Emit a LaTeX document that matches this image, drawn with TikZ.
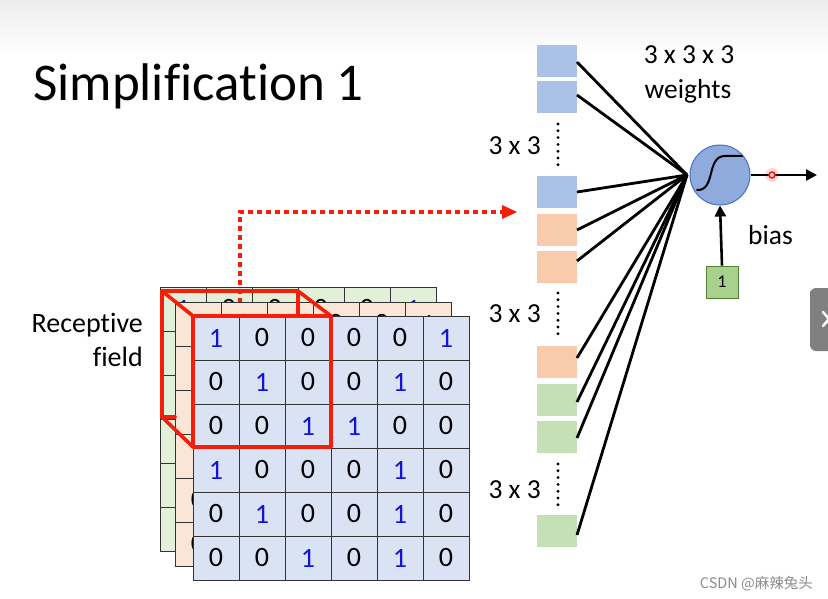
\documentclass[tikz,border=0pt]{standalone}
\usepackage{fontspec}
\setmainfont[Ligatures=NoCommon]{Carlito}
\newfontfamily\cjk{Noto Sans CJK SC}
\definecolor{oneblue}{RGB}{20,20,215}
\definecolor{gfront}{HTML}{DAE3F3}
\definecolor{gorange}{HTML}{FBE5D6}
\definecolor{ggreen}{HTML}{E2F0D9}
\definecolor{bblue}{HTML}{A9C2E5}
\definecolor{borange}{HTML}{F8CBAD}
\definecolor{bgreen}{HTML}{C5E0B4}
\definecolor{neuronfill}{HTML}{8FAADC}
\definecolor{neurondraw}{HTML}{4472C4}
\definecolor{biasfill}{HTML}{A9D18E}
\definecolor{biasdraw}{HTML}{548235}
\definecolor{rfred}{RGB}{245,30,10}
\newcommand{\drawgrid}[4]{%
  \foreach \row [count=\r] in {{1,0,0,0,0,1},{0,1,0,0,1,0},{0,0,1,1,0,0},{1,0,0,0,1,0},{0,1,0,0,1,0},{0,0,1,0,1,0}}{%
    \foreach \v [count=\c] in \row {%
      \ifnum\v=1 \def\tc{oneblue}\else\def\tc{black}\fi
      \node[cell, fill=#4, text=\tc] (#1-\r-\c) at ({#2+(\c-0.5)*46},{#3+(\r-0.5)*44}) {\v};
    }%
  }%
}
\tikzset{
  cell/.style={draw=black!80, line width=1pt, minimum width=46pt, minimum height=44pt, inner sep=0pt, font=\fontsize{28}{28}\selectfont},
  wbox/.style={minimum width=40pt, minimum height=32pt, inner sep=0pt},
  lbl/.style={font=\fontsize{27.5}{27.5}\selectfont, inner sep=0pt},
  wline/.style={line width=2.8pt, black},
  vdots/.style={line width=3.2pt, line cap=round, dash pattern=on 0pt off 6.8pt},
  redline/.style={rfred, line width=3.6pt, line cap=round, line join=round},
  tip/.style={-{Triangle[length=11pt,width=11pt]}, line width=2.6pt},
}
\usetikzlibrary{arrows.meta}
\begin{document}
\begin{tikzpicture}[x=1pt,y=-1pt]
\useasboundingbox (0,0) rectangle (828,599);
\fill[white] (0,0) rectangle (828,599);
\shade[top color=black!7, bottom color=white] (0,0) rectangle (828,55);

% title
\node[anchor=base west, inner sep=0pt, font=\fontsize{53}{53}\selectfont] (title) at (33,101) {Simplification 1};

% receptive field label
\node[anchor=base east, inner sep=0pt, font=\fontsize{28}{28}\selectfont] (rf1) at (143,332) {Receptive};
\node[anchor=base east, inner sep=0pt, font=\fontsize{28}{28}\selectfont] (rf2) at (143,366) {field};

% back grids
\drawgrid{g}{160}{287}{ggreen}
% red dotted pointer
\coordinate (pstart) at (240,303);
\coordinate (pcorner) at (240,212);
\coordinate (pend) at (517,212);
\draw[rfred, line width=4pt, dash pattern=on 5pt off 4pt] (pstart) -- (pcorner) -- (503,212);
\fill[rfred] (502,205) -- (pend) -- (502,219) -- cycle;

\drawgrid{o}{175}{302}{gorange}
% red cube back parts
\coordinate (bTL) at (162,291);
\coordinate (bTR) at (298,291);
\coordinate (bBL) at (162,417);
\coordinate (fTL) at (193,316);
\coordinate (fTR) at (331,316);
\coordinate (fBL) at (193,447);
\coordinate (fBR) at (331,447);
\draw[redline] (bBL) -- (bTL) -- (bTR) -- (298,316);
\draw[redline] (bBL) -- (175,417);
\draw[redline] (bTL) -- (fTL);
\draw[redline] (bTR) -- (fTR);
\draw[redline] (bBL) -- (fBL);
% front grid
\drawgrid{f}{193}{316}{gfront}
\draw[redline] (fTL) -- (fTR) -- (fBR) -- (fBL) -- cycle;

% weight boxes
\node[wbox, fill=bblue] (b1) at (557,61) {};
\node[wbox, fill=bblue] (b2) at (557,97) {};
\node[wbox, fill=bblue] (b3) at (557,192) {};
\node[wbox, fill=borange] (o1) at (557,230) {};
\node[wbox, fill=borange] (o2) at (557,267) {};
\node[wbox, fill=borange] (o3) at (557,362) {};
\node[wbox, fill=bgreen] (g1) at (557,400) {};
\node[wbox, fill=bgreen] (g2) at (557,437) {};
\node[wbox, fill=bgreen] (g3) at (557,531) {};

% vertical dots
\coordinate (d1a) at (558,124);
\coordinate (d1b) at (558,166);
\coordinate (d2a) at (558,293);
\coordinate (d2b) at (558,335);
\coordinate (d3a) at (558,464);
\coordinate (d3b) at (558,506);
\draw[vdots] (d1a) -- (d1b);
\draw[vdots] (d2a) -- (d2b);
\draw[vdots] (d3a) -- (d3b);

\node[lbl, anchor=base east] (l1) at (541,155) {3 x 3};
\node[lbl, anchor=base east] (l2) at (541,322) {3 x 3};
\node[lbl, anchor=base east] (l3) at (541,498) {3 x 3};

% neuron
\node[circle, draw=neurondraw, fill=neuronfill, line width=1pt, minimum size=60pt, inner sep=0pt] (n) at (720,175) {};
\draw[line width=2pt, line cap=round] (697,190) .. controls (716,191) and (706,156) .. (725,156) -- (742,156);
\coordinate (conv) at (687,175);
\foreach \b/\y in {b1/62, b2/95, b3/192, o1/230, o2/261, o3/358, g1/402, g2/438, g3/535}{
  \draw[wline] (577,\y) -- (conv);
}

% labels
\node[lbl, anchor=base] (w1) at (689,64) {3 x 3 x 3};
\node[lbl, anchor=base] (w2) at (688,99) {weights};
\node[lbl, anchor=base west] (bias) at (748,244) {bias};

% bias box
\node[draw=biasdraw, fill=biasfill, line width=0.8pt, minimum width=32pt, minimum height=32pt, inner sep=0pt, font=\fontsize{18}{18}\selectfont] (one) at (722,282) {1};
\draw[tip] (one.north) -- (n.south);

% output
\coordinate (out) at (817,175);
\draw[tip] (n.east) -- (out);
\node[circle, draw=rfred, line width=1.5pt, minimum size=6pt, inner sep=0pt, fill=white] (laser) at (772,175) {};
\fill[red, opacity=0.15] (772,175) circle (7pt);

% side tab
\fill[black!50] (810,293) [rounded corners=6pt] -- (810,288) -- (840,288) -- (840,351) -- (810,351) -- cycle;
\draw[white, line width=2.5pt, line cap=round] (823,312) -- (829,319) -- (823,326);

% watermark
\node[anchor=base east, inner sep=0pt, text=black!45, font=\cjk\fontsize{14.5}{14.5}\selectfont] (wm) at (813,588) {CSDN @麻辣兔头};
\end{tikzpicture}
\end{document}
